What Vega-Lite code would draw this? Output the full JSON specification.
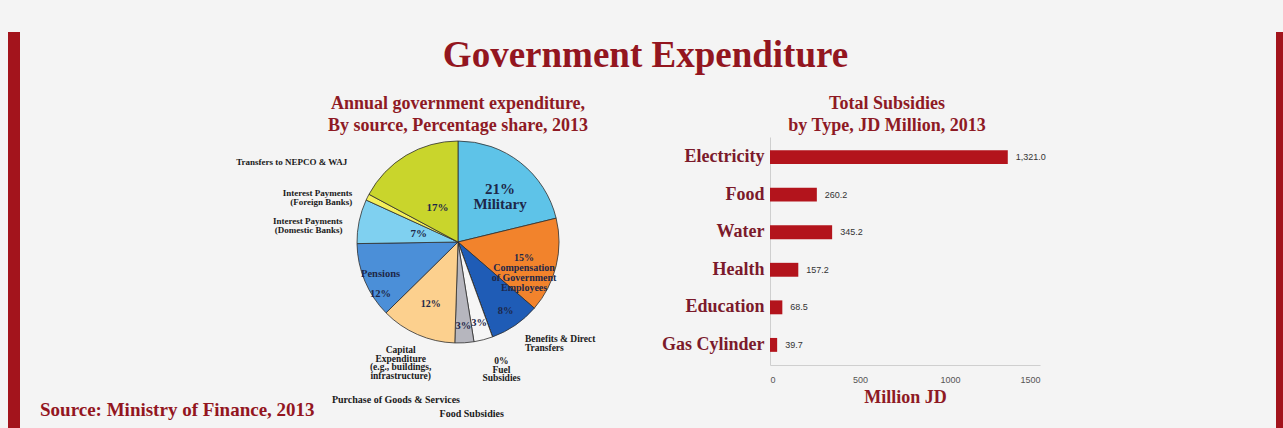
{
  "$schema": "https://vega.github.io/schema/vega-lite/v6.json",
  "background": "#f4f4f4",
  "padding": {"left": 8, "top": 32, "right": 0, "bottom": -24},
  "bounds": "flush",
  "spacing": 20,
  "title": {"text": "Government Expenditure", "fontSize": 37, "offset": -43, "color": "#93161f", "font": "Liberation Serif", "fontWeight": "bold", "anchor": "middle"},
  "config": {
    "view": {"stroke": null},
    "title": {"font": "Liberation Serif", "fontWeight": "bold", "color": "#8e1a24"},
    "text": {"font": "Liberation Serif", "fontWeight": "bold"}
  },
  "datasets": {
    "pie": [
      {"cat": "Military", "value": 21, "rank": 1, "big": "21%\nMilitary", "a": "", "b": "", "c": "", "outL": "", "outT": "", "outR": "", "outC": "", "outK": "", "outF": "", "outP": ""},
      {"cat": "Compensation of Government Employees", "value": 15, "rank": 2, "big": "", "a": "15%\nCompensation\nof Government\nEmployees", "b": "", "c": "", "outL": "", "outT": "", "outR": "", "outC": "", "outK": "", "outF": "", "outP": ""},
      {"cat": "Benefits & Direct Transfers", "value": 8, "rank": 3, "big": "", "a": "", "b": "8%", "c": "", "outL": "", "outT": "", "outR": "Benefits & Direct\nTransfers", "outC": "", "outK": "", "outF": "", "outP": ""},
      {"cat": "Fuel Subsidies", "value": 0, "rank": 4, "big": "", "a": "", "b": "", "c": "", "outL": "", "outT": "", "outR": "", "outC": "0%\nFuel\nSubsidies", "outK": "", "outF": "", "outP": ""},
      {"cat": "Food Subsidies", "value": 3, "rank": 5, "big": "", "a": "", "b": "3%", "c": "", "outL": "", "outT": "", "outR": "", "outC": "", "outK": "", "outF": "Food Subsidies", "outP": ""},
      {"cat": "Purchase of Goods & Services", "value": 3, "rank": 6, "big": "", "a": "", "b": "3%", "c": "", "outL": "", "outT": "", "outR": "", "outC": "", "outK": "", "outF": "", "outP": "Purchase of Goods & Services"},
      {"cat": "Capital Expenditure", "value": 12, "rank": 7, "big": "", "a": "12%", "b": "", "c": "", "outL": "", "outT": "", "outR": "", "outC": "", "outK": "Capital\nExpenditure\n(e.g., buildings,\ninfrastructure)", "outF": "", "outP": ""},
      {"cat": "Pensions", "value": 12, "rank": 8, "big": "", "a": "", "b": "Pensions\n12%", "c": "", "outL": "", "outT": "", "outR": "", "outC": "", "outK": "", "outF": "", "outP": ""},
      {"cat": "Interest Payments (Domestic Banks)", "value": 7, "rank": 9, "big": "", "a": "", "b": "", "c": "7%", "outL": "Interest Payments\n(Domestic Banks)", "outT": "", "outR": "", "outC": "", "outK": "", "outF": "", "outP": ""},
      {"cat": "Interest Payments (Foreign Banks)", "value": 1, "rank": 10, "big": "", "a": "", "b": "", "c": "", "outL": "Interest Payments\n(Foreign Banks)", "outT": "", "outR": "", "outC": "", "outK": "", "outF": "", "outP": ""},
      {"cat": "Transfers to NEPCO & WAJ", "value": 17, "rank": 11, "big": "", "a": "", "b": "", "c": "17%", "outL": "", "outT": "Transfers to NEPCO & WAJ", "outR": "", "outC": "", "outK": "", "outF": "", "outP": ""}
    ],
    "subsidies": [
      {"type": "Electricity", "value": 1321.0},
      {"type": "Food", "value": 260.2},
      {"type": "Water", "value": 345.2},
      {"type": "Health", "value": 157.2},
      {"type": "Education", "value": 68.5},
      {"type": "Gas Cylinder", "value": 39.7}
    ]
  },
  "hconcat": [
    {
      "width": 12, "height": 396,
      "view": {"fill": "#a3141c", "stroke": null},
      "data": {"values": [{}]},
      "mark": {"type": "point", "opacity": 0},
      "encoding": {}
    },
    {
      "width": 106, "height": 365,
      "title": {"text": "Source: Ministry of Finance, 2013", "orient": "bottom", "anchor": "start", "fontSize": 19, "offset": 4, "color": "#93161f"},
      "data": {"values": [{}]},
      "mark": {"type": "point", "opacity": 0},
      "encoding": {}
    },
    {
      "width": 584, "height": 420,
      "title": {"text": ["Annual government expenditure,", "By source, Percentage share, 2013"], "fontSize": 18, "lineHeight": 22, "offset": -103, "anchor": "middle"},
      "data": {"name": "pie"},
      "encoding": {
        "theta": {"field": "value", "type": "quantitative", "stack": true},
        "order": {"field": "rank", "type": "quantitative"},
        "detail": {"field": "cat", "type": "nominal"}
      },
      "layer": [
        {
          "mark": {"type": "arc", "outerRadius": 101, "stroke": "#2e2e2e", "strokeWidth": 0.8},
          "encoding": {
            "color": {"field": "cat", "type": "nominal", "legend": null,
              "scale": {
                "domain": ["Military", "Compensation of Government Employees", "Benefits & Direct Transfers", "Fuel Subsidies", "Food Subsidies", "Purchase of Goods & Services", "Capital Expenditure", "Pensions", "Interest Payments (Domestic Banks)", "Interest Payments (Foreign Banks)", "Transfers to NEPCO & WAJ"],
                "range": ["#5ec3e8", "#f2832c", "#1f5cb6", "#ffffff", "#f6f6f6", "#b6b6be", "#fcd08e", "#4b8fd8", "#7fd0f0", "#f3ef5a", "#c9d52c"]
              }}
          }
        },
        {"mark": {"type": "text", "radius": 68, "fontSize": 15, "lineBreak": "\n", "lineHeight": 15, "color": "#1d2748"}, "encoding": {"text": {"field": "big"}}},
        {"mark": {"type": "text", "radius": 68, "fontSize": 10, "lineBreak": "\n", "lineHeight": 10, "color": "#1d2748"}, "encoding": {"text": {"field": "a"}}},
        {"mark": {"type": "text", "radius": 84, "fontSize": 10.5, "lineBreak": "\n", "lineHeight": 20, "color": "#1d2748"}, "encoding": {"text": {"field": "b"}}},
        {"mark": {"type": "text", "radius": 40, "fontSize": 11, "lineBreak": "\n", "color": "#1d2748"}, "encoding": {"text": {"field": "c"}}},
        {"mark": {"type": "text", "radius": 118, "align": "right", "dy": 3, "fontSize": 9, "lineBreak": "\n", "lineHeight": 9, "color": "#1a1a1a"}, "encoding": {"text": {"field": "outL"}}},
        {"mark": {"type": "text", "radius": 118, "align": "right", "dx": -50, "dy": 21, "fontSize": 9, "color": "#1a1a1a"}, "encoding": {"text": {"field": "outT"}}},
        {"mark": {"type": "text", "radius": 118, "align": "left", "fontSize": 9.5, "lineBreak": "\n", "lineHeight": 9, "color": "#1a1a1a"}, "encoding": {"text": {"field": "outR"}}},
        {"mark": {"type": "text", "radius": 127, "align": "center", "fontSize": 9.5, "lineBreak": "\n", "lineHeight": 8.5, "color": "#1a1a1a"}, "encoding": {"text": {"field": "outC"}}},
        {"mark": {"type": "text", "radius": 118, "align": "center", "dx": -10, "fontSize": 9.5, "lineBreak": "\n", "lineHeight": 8.5, "color": "#1a1a1a"}, "encoding": {"text": {"field": "outK"}}},
        {"mark": {"type": "text", "radius": 174, "align": "center", "dx": -30, "dy": 4, "fontSize": 10, "color": "#1a1a1a"}, "encoding": {"text": {"field": "outF"}}},
        {"mark": {"type": "text", "radius": 158, "align": "right", "dx": -8, "fontSize": 10, "color": "#1a1a1a"}, "encoding": {"text": {"field": "outP"}}}
      ]
    },
    {
      "width": 270, "height": 333,
      "title": {"text": ["Total Subsidies", "by Type, JD Million, 2013"], "fontSize": 18, "lineHeight": 22, "offset": -103, "dx": -18, "anchor": "middle"},
      "data": {"name": "subsidies"},
      "encoding": {
        "y": {"field": "type", "type": "nominal", "sort": null,
          "scale": {"range": [105, 333], "paddingInner": 0.63, "paddingOuter": 0.35},
          "axis": {"title": null, "labelFont": "Liberation Serif", "labelFontWeight": "bold", "labelFontSize": 18, "labelColor": "#7b1a2b", "ticks": false, "domainColor": "#cfcfcf", "labelPadding": 6, "grid": false}},
        "x": {"field": "value", "type": "quantitative", "scale": {"domain": [0, 1500]},
          "axis": {"title": "Million JD", "titleFont": "Liberation Serif", "titleFontWeight": "bold", "titleFontSize": 18, "titleColor": "#8e1a24", "titlePadding": 4, "values": [0, 500, 1000, 1500], "format": "d", "labelFont": "Liberation Sans", "labelFontSize": 9, "labelColor": "#555555", "labelPadding": 10, "domainColor": "#cfcfcf", "ticks": false, "grid": false}}
      },
      "layer": [
        {"mark": {"type": "bar", "color": "#b3141c"}},
        {"mark": {"type": "text", "align": "left", "dx": 8, "font": "Liberation Sans", "fontWeight": "normal", "fontSize": 9, "color": "#333333"}, "encoding": {"text": {"field": "value", "type": "quantitative", "format": ",.1f"}}}
      ]
    },
    {
      "width": 196, "height": 10,
      "data": {"values": [{}]},
      "mark": {"type": "point", "opacity": 0},
      "encoding": {}
    },
    {
      "width": 7, "height": 396,
      "view": {"fill": "#a3141c", "stroke": null},
      "data": {"values": [{}]},
      "mark": {"type": "point", "opacity": 0},
      "encoding": {}
    }
  ]
}
